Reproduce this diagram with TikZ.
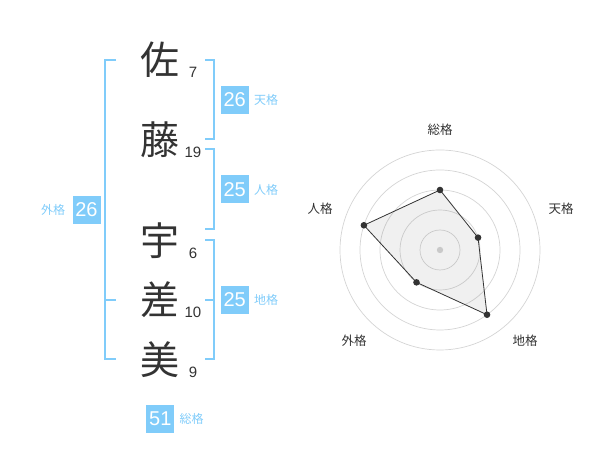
\documentclass[tikz,border=0pt]{standalone}
\usepackage{fontspec}
\setmainfont{Liberation Sans}
\newfontfamily\jpfont{Noto Sans CJK JP}
\usetikzlibrary{positioning}
\definecolor{kakublue}{RGB}{128,204,250}
\definecolor{inkgray}{RGB}{51,51,51}
\definecolor{ringgray}{RGB}{212,212,212}
\tikzset{
  kanji/.style={font=\jpfont\fontsize{39}{39}\selectfont, text=inkgray, inner sep=0pt, text height=34.3pt, text depth=4.7pt},
  strokes/.style={font=\fontsize{15}{15}\selectfont, text=inkgray, inner sep=0pt},
  kbox/.style={fill=kakublue, text=white, minimum size=28pt, inner sep=0pt, font=\fontsize{20}{20}\selectfont},
  klabel/.style={text=kakublue, font=\jpfont\fontsize{12}{12}\selectfont, inner sep=0pt},
  bracket/.style={draw=kakublue, line width=2pt},
  ring/.style={draw=ringgray, line width=0.7pt},
  axislabel/.style={text=inkgray, font=\jpfont\fontsize{12.5}{12.5}\selectfont, inner sep=0pt}
}
\begin{document}
\begin{tikzpicture}[x=1pt, y=1pt]
    \useasboundingbox (0,0) rectangle (600,470);

    % Name
    \node[kanji] (sa) at (160,410) {佐};
    \node[kanji] (to) at (160,330) {藤};
    \node[kanji] (u) at (160,229) {宇};
    \node[kanji] (sai) at (160,170) {差};
    \node[kanji] (mi) at (160,110) {美};

    % Strokes
    \node[strokes] (k1) at ([shift={(33,-12)}]sa.center) {7};
    \node[strokes] (k2) at ([shift={(33,-12)}]to.center) {19};
    \node[strokes] (k3) at ([shift={(33,-12)}]u.center) {6};
    \node[strokes] (k4) at ([shift={(33,-12)}]sai.center) {10};
    \node[strokes] (k5) at ([shift={(33,-12)}]mi.center) {9};

    % Brackets
    \draw[bracket] (116,0 |- sa) -- (105,0 |- sa) -- (105,111) -- (116,111);
    \draw[bracket] (105,0 |- sai) -- (116,0 |- sai);
    \draw[bracket] (205,0 |- sa) -- (214.3,0 |- sa) -- (214.3,331) -- (205,331);
    \draw[bracket] (205,321) -- (214.3,321) -- (214.3,241) -- (205,241);
    \draw[bracket] (205,230) -- (214.3,230) -- (214.3,111) -- (205,111);
    \draw[bracket] (205,0 |- sai) -- (214.3,0 |- sai);

    % Kaku
    \node[kbox] (ten) at (234.7,370) {26};
    \node[klabel, right=5pt of ten] (tenl) {天格};
    \node[kbox] (jin) at (234.7,280.5) {25};
    \node[klabel, right=5pt of jin] (jinl) {人格};
    \node[kbox] (chi) at (234.7,0 |- sai) {25};
    \node[klabel, right=5pt of chi] (chil) {地格};
    \node[kbox] (gai) at (86.5,260) {26};
    \node[klabel, left=7pt of gai] (gail) {外格};
    \node[kbox] (sou) at (160.3,50.8) {51};
    \node[klabel, right=5pt of sou] (soul) {総格};

    % Radar
    \begin{scope}[shift={(440,220)}]
        \foreach \r in {20,40,...,100}
            \draw[ring] (0,0) circle[radius=\r pt];
        \fill[ringgray] (0,0) circle[radius=3.2pt];
        \draw[inkgray, line width=0.8pt, fill=gray, fill opacity=0.12]
            (90:60) -- (18:40) -- (-54:80) -- (-126:40) -- (162:80) -- cycle;
        \foreach \a/\r in {90/60, 18/40, -54/80, -126/40, 162/80}
            \fill[inkgray] (\a:\r) circle[radius=3.3pt];
        \node[axislabel] (asou) at (0,120) {総格};
        \node[axislabel] (aten) at (121,41.7) {天格};
        \node[axislabel] (achi) at (85,-91) {地格};
        \node[axislabel] (agai) at (-86,-91) {外格};
        \node[axislabel] (ajin) at (-120,41.7) {人格};
    \end{scope}
\end{tikzpicture}
\end{document}
